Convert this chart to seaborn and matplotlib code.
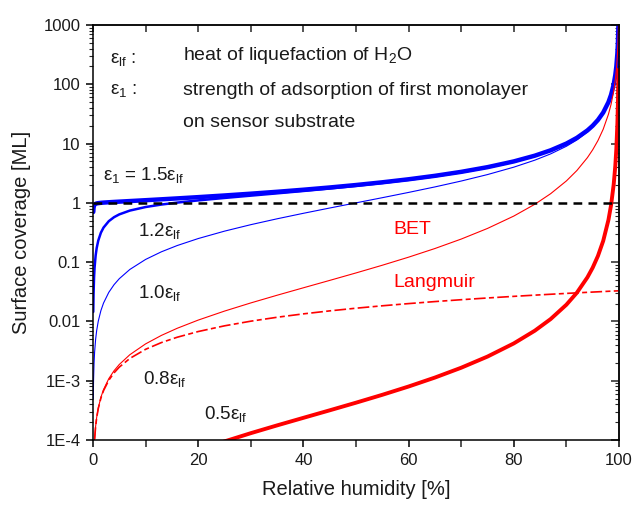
import matplotlib
matplotlib.use("Agg")
import matplotlib.pyplot as plt
import matplotlib.ticker as mticker
import numpy as np
import pandas as pd
import seaborn as sns

# ---------------- data ----------------
humidity = [0.05, 0.1, 0.2, 0.3, 0.5, 0.7, 1, 1.5, 2, 3, 4, 5, 7, 10, 13, 16, 20, 25,
            30, 35, 40, 45, 50, 55, 60, 65, 70, 75, 80, 84, 87, 90, 92, 94, 95, 96,
            97, 98, 98.5, 99, 99.3, 99.5, 99.7, 99.8, 99.9]

bet_15 = [0.7015, 0.8252, 0.9056, 0.9366, 0.9641, 0.9775, 0.9892, 1.0012, 1.0099,
          1.0238, 1.0364, 1.0484, 1.0722, 1.1090, 1.1478, 1.1891, 1.2489, 1.3325,
          1.4279, 1.5379, 1.6661, 1.8177, 1.9996, 2.2218, 2.4996, 2.8568, 3.3330,
          3.9997, 4.9997, 6.25, 7.692, 10.0, 12.5, 16.67, 20.0, 25.0, 33.33, 50.0,
          66.67, 100.0, 142.9, 200.0, 333.3, 500.0, 1000.0]

bet_12 = [0.01450, 0.02862, 0.05575, 0.08152, 0.1294, 0.1729, 0.2313, 0.3140, 0.3827,
          0.4910, 0.5735, 0.6394, 0.7406, 0.8507, 0.9363, 1.0101, 1.1003, 1.2099,
          1.3235, 1.4470, 1.5858, 1.7456, 1.9342, 2.1621, 2.4446, 2.8058, 3.2854,
          3.9552, 4.9578, 6.2097, 7.6535, 9.9623, 12.463, 16.631, 19.964, 24.965,
          33.298, 49.965, 66.632, 99.966, 142.82, 199.97, 333.3, 500.0, 1000.0]

bet_10 = [0.0005, 0.001, 0.002004, 0.003009, 0.005025, 0.007049, 0.010101, 0.015228,
          0.020408, 0.030928, 0.041667, 0.052632, 0.075269, 0.11111, 0.14943, 0.19048,
          0.25, 0.33333, 0.42857, 0.53846, 0.66667, 0.81818, 1.0, 1.2222, 1.5, 1.8571,
          2.3333, 3.0, 4.0, 5.25, 6.6923, 9.0, 11.5, 15.667, 19.0, 24.0, 32.333, 49.0,
          65.667, 99.0, 141.86, 199.0, 332.33, 499.0, 999.0]

bet_08 = [1.702e-5, 3.407e-5, 6.827e-5, 1.0261e-4, 1.7169e-4, 2.4131e-4, 3.4678e-4,
          5.2537e-4, 7.0754e-4, 1.0829e-3, 1.4736e-3, 1.8803e-3, 2.7448e-3, 4.1817e-3,
          5.8101e-3, 7.6602e-3, 0.010536, 0.014942, 0.020517, 0.027659, 0.036940,
          0.049209, 0.065764, 0.088669, 0.12131, 0.16969, 0.24501, 0.37024, 0.59859,
          0.94664, 1.4259, 2.3430, 3.5137, 5.7924, 7.8493, 11.233, 17.455, 31.245,
          46.044, 77.096, 118.33, 174.25, 306.24, 472.17, 971.4]

langmuir_08 = [1.7e-5, 3.4e-5, 6.8e-5, 1.02e-4, 1.6997e-4, 2.3794e-4, 3.3988e-4,
               5.0974e-4, 6.7954e-4, 1.019e-3, 1.3582e-3, 1.6971e-3, 2.3743e-3,
               3.3885e-3, 4.4005e-3, 5.4106e-3, 6.7541e-3, 8.4284e-3, 0.010097,
               0.011760, 0.013418, 0.015069, 0.016716, 0.018357, 0.019992, 0.021622,
               0.023247, 0.024866, 0.026480, 0.027767, 0.028730, 0.029692, 0.030331,
               0.030970, 0.031289, 0.031608, 0.031927, 0.032246, 0.032405, 0.032564,
               0.032659, 0.032723, 0.032787, 0.032819, 0.032850]

bet_05 = [1.065e-7, 2.134e-7, 4.277e-7, 6.43e-7, 1.076e-6, 1.512e-6, 2.173e-6,
          3.293e-6, 4.436e-6, 6.791e-6, 9.245e-6, 1.180e-5, 1.724e-5, 2.630e-5,
          3.658e-5, 4.830e-5, 6.656e-5, 9.466e-5, 1.3040e-4, 1.7643e-4, 2.3663e-4,
          3.1680e-4, 4.2591e-4, 5.7836e-4, 7.9849e-4, 1.1298e-3, 1.6558e-3,
          2.5544e-3, 4.2564e-3, 6.9813e-3, 0.010950, 0.019133, 0.030544, 0.055432,
          0.080614, 0.12715, 0.22799, 0.51645, 0.91959, 2.0651, 4.1900, 8.1327,
          22.036, 48.037, 175.45]

monolayer_x = [0, 100]
monolayer_y = [1.0, 1.0]

y_ticks = [1e-4, 1e-3, 1e-2, 1e-1, 1, 10, 100, 1000]
y_tick_labels = ["1E-4", "1E-3", "0.01", "0.1", "1", "10", "100", "1000"]
x_ticks = [0, 20, 40, 60, 80, 100]

# ---------------- styling ----------------
sns.set_style("ticks")
plt.rcParams["font.family"] = ["Liberation Sans", "DejaVu Sans"]
plt.rcParams["mathtext.fontset"] = "custom"
plt.rcParams["mathtext.rm"] = "Liberation Sans"
plt.rcParams["mathtext.it"] = "Liberation Sans"

TXT = "#1a1a1a"
BLUE = "#0000ff"
RED = "#ff0000"

fig = plt.figure(figsize=(6.34, 5.05), dpi=100)
ax = fig.add_axes([0.1467, 0.1287, 0.9763 - 0.1467, 0.9505 - 0.1287])

df = pd.DataFrame({"x": humidity, "b15": bet_15, "b12": bet_12, "b10": bet_10,
                   "b08": bet_08, "l08": langmuir_08, "b05": bet_05})

sns.lineplot(data=df, x="x", y="b10", ax=ax, color=BLUE, lw=0.8, estimator=None, sort=False)
sns.lineplot(data=df, x="x", y="b12", ax=ax, color=BLUE, lw=1.8, estimator=None, sort=False)
sns.lineplot(data=df, x="x", y="b15", ax=ax, color=BLUE, lw=3.2, estimator=None, sort=False)
sns.lineplot(data=df, x="x", y="b08", ax=ax, color=RED, lw=0.8, estimator=None, sort=False)
sns.lineplot(data=df, x="x", y="l08", ax=ax, color=RED, lw=1.2, estimator=None, sort=False,
             dashes=False).lines[-1].set_dashes([7, 2, 3, 2])
sns.lineplot(data=df, x="x", y="b05", ax=ax, color=RED, lw=2.8, estimator=None, sort=False)
ml = sns.lineplot(x=monolayer_x, y=monolayer_y, ax=ax, color="black", lw=1.8,
                  estimator=None, sort=False).lines[-1]
ml.set_dashes([3.5, 2.5])

ax.set_yscale("log")
ax.set_xlim(0, 100)
ax.set_ylim(1e-4, 1000)

ax.yaxis.set_major_locator(mticker.FixedLocator(y_ticks))
ax.yaxis.set_major_formatter(mticker.FixedFormatter(y_tick_labels))
ax.yaxis.set_minor_locator(mticker.LogLocator(base=10, subs=np.arange(2, 10)))
ax.yaxis.set_minor_formatter(mticker.NullFormatter())
ax.xaxis.set_major_locator(mticker.FixedLocator(x_ticks))
ax.xaxis.set_minor_locator(mticker.MultipleLocator(10))

for s in ax.spines.values():
    s.set_linewidth(1.1)
    s.set_color("black")

# bottom / left: outward ticks with labels
ax.tick_params(axis="both", which="major", labelsize=12, labelcolor=TXT, color="black")
ax.tick_params(axis="x", which="both", bottom=True, top=False, direction="out",
               length=5, width=1.1, pad=4)
ax.tick_params(axis="y", which="major", left=True, right=False, direction="out",
               length=5, width=1.1, pad=4)
ax.tick_params(axis="y", which="minor", left=True, right=False, direction="out",
               length=3, width=0.8)

# top / right: inward ticks, no labels
top = ax.secondary_xaxis("top")
top.xaxis.set_major_locator(mticker.MultipleLocator(10))
top.tick_params(axis="x", which="both", direction="in", length=5, width=1.1, labeltop=False)
top.spines["top"].set_linewidth(1.1)
right = ax.secondary_yaxis("right")
right.set_yscale("log")
right.yaxis.set_major_locator(mticker.FixedLocator(y_ticks))
right.yaxis.set_minor_locator(mticker.LogLocator(base=10, subs=np.arange(2, 10)))
right.yaxis.set_minor_formatter(mticker.NullFormatter())
right.tick_params(axis="y", which="major", direction="in", length=6, width=1.1, labelright=False)
right.tick_params(axis="y", which="minor", direction="in", length=3, width=0.8)
right.spines["right"].set_linewidth(1.1)

ax.set_xlabel("Relative humidity [%]", fontsize=14.5, color=TXT, labelpad=9)
ax.set_ylabel("Surface coverage [ML]", fontsize=14.5, color=TXT, labelpad=9)

fs = 14
fe = 13.5
ax.text(3.2, 260, r"ε$_\mathregular{lf}$ :", fontsize=fe, color=TXT, va="center", ha="left")
ax.text(17.1, 300, r"heat of liquefaction of H$_\mathregular{2}$O", fontsize=fs, color=TXT,
        va="center", ha="left")
ax.text(3.2, 78, r"ε$_\mathregular{1}$ :", fontsize=fe, color=TXT, va="center", ha="left")
ax.text(17.1, 80, "strength of adsorption of first monolayer", fontsize=fs, color=TXT,
        va="center", ha="left")
ax.text(17.1, 22.3, "on sensor substrate", fontsize=fs, color=TXT, va="center", ha="left")
ax.text(1.9, 2.9, r"ε$_\mathregular{1}$ = 1.5ε$_\mathregular{lf}$", fontsize=fe, color=TXT,
        va="center", ha="left")
ax.text(8.6, 0.33, r"1.2ε$_\mathregular{lf}$", fontsize=fe, color=TXT, va="center", ha="left")
ax.text(8.6, 0.030, r"1.0ε$_\mathregular{lf}$", fontsize=fe, color=TXT, va="center", ha="left")
ax.text(9.5, 1.05e-3, r"0.8ε$_\mathregular{lf}$", fontsize=fe, color=TXT, va="center", ha="left")
ax.text(21.1, 2.75e-4, r"0.5ε$_\mathregular{lf}$", fontsize=fe, color=TXT, va="center", ha="left")
ax.text(57.2, 0.35, "BET", fontsize=fs, color=RED, va="center", ha="left")
ax.text(57.2, 0.0446, "Langmuir", fontsize=fs, color=RED, va="center", ha="left")

fig.savefig("out.png", dpi=100)
